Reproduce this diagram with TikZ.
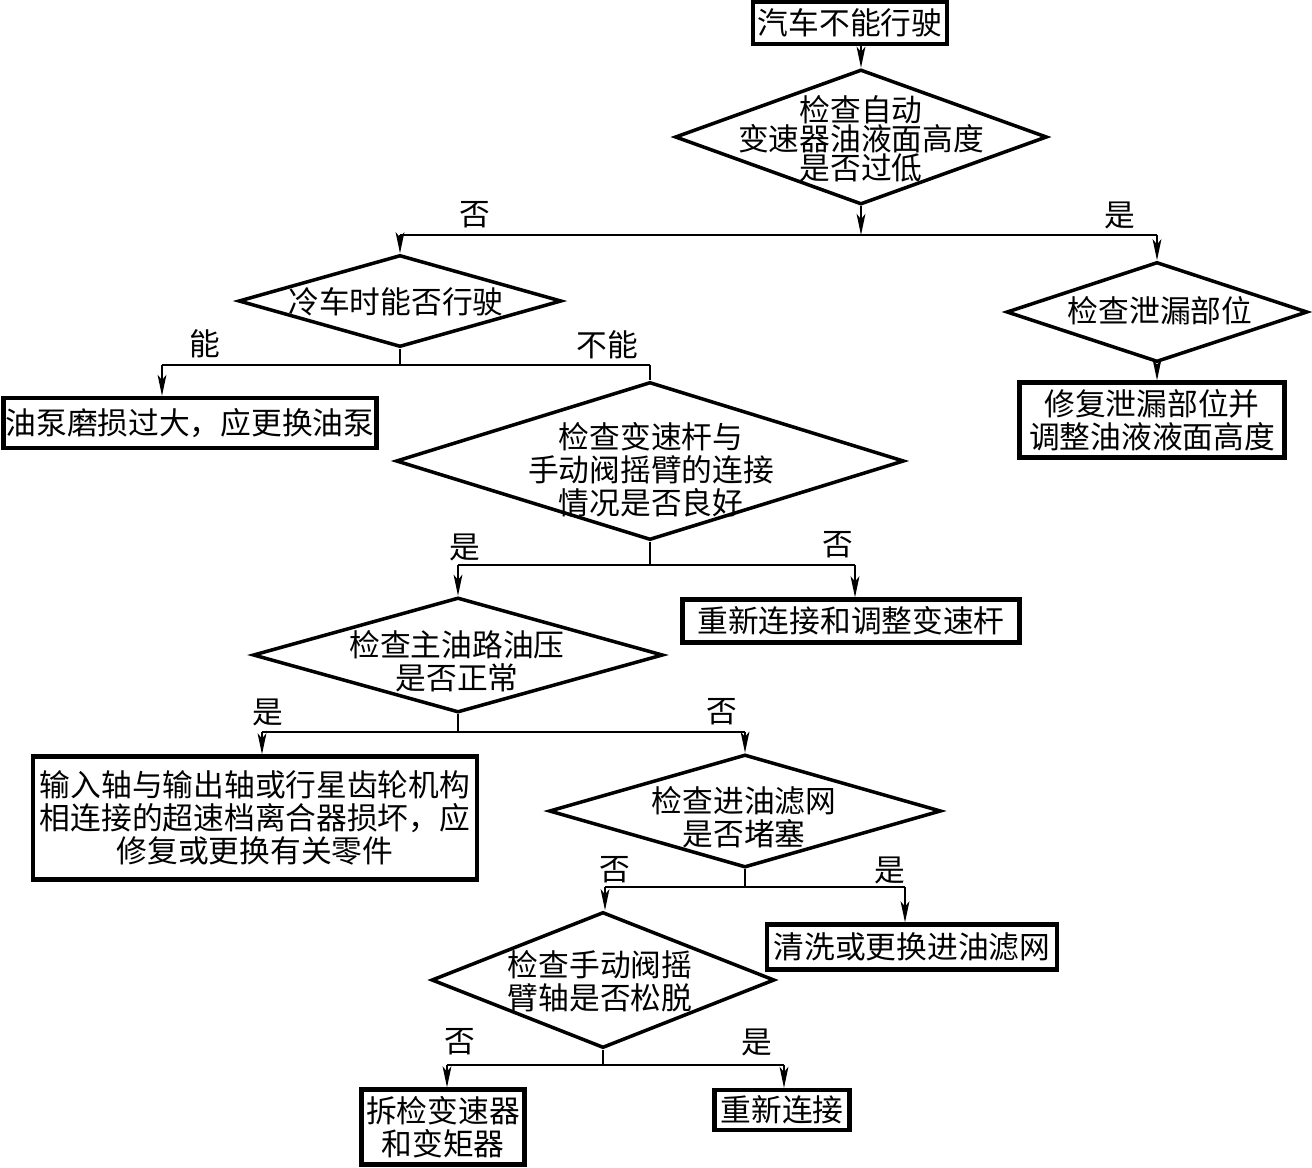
\documentclass[tikz,border=0pt]{standalone}
\usepackage{fontspec}
\setmainfont{Noto Sans CJK SC}
\usetikzlibrary{shapes.geometric,arrows.meta,positioning}
\tikzset{>/.tip={Stealth[length=12pt,width=5pt,inset=3pt]}}
\def\u{0.02cm}
\tikzset{dec/.style={diamond,draw,line width=2pt,inner sep=0pt}}
\tikzset{act/.style={rectangle,draw,line width=2.4pt,align=center,inner xsep=1pt,inner ysep=0pt}}
\tikzset{say/.style={align=center,inner sep=0pt}}
\tikzset{tag/.style={inner sep=0pt}}
\tikzset{wire/.style={line width=1.1pt}}

\begin{document}
\begin{tikzpicture}[x=\u,y=-\u,font=\fontsize{17.5}{18.8}\selectfont]
        \useasboundingbox (0,0) rectangle (1312,1167);
        \node(start)[act,minimum width=194*\u,minimum height=42*\u] at (850,23) {汽车不能行驶};
        \node(lvl)[dec,minimum width=372*\u,minimum height=135*\u] at (861,137) {};
        \node(lvlT)[say,font=\fontsize{17.5}{16.5}\selectfont] at (861,139) {检查自动\\变速器油液面高度\\是否过低};
        \node(cold)[dec,minimum width=323*\u,minimum height=92*\u] at (400,301) {};
        \node(coldT)[say] at (396,302) {冷车时能否行驶};
        \node(leak)[dec,minimum width=301*\u,minimum height=100*\u] at (1157,312) {};
        \node(leakT)[say] at (1160,311) {检查泄漏部位};
        \node(fixleak)[act,minimum width=265*\u,minimum height=75*\u] at (1152,420) {修复泄漏部位并\\调整油液液面高度};
        \node(pump)[act,minimum width=373*\u,minimum height=50*\u] at (190,423) {油泵磨损过大，应更换油泵};
        \node(shift)[dec,minimum width=508*\u,minimum height=158*\u] at (650,461) {};
        \node(shiftT)[say] at (651,470) {检查变速杆与\\手动阀摇臂的连接\\情况是否良好};
        \node(relink)[act,minimum width=337*\u,minimum height=43*\u] at (851,621) {重新连接和调整变速杆};
        \node(press)[dec,minimum width=410*\u,minimum height=115*\u] at (458,655) {};
        \node(pressT)[say] at (457,661) {检查主油路油压\\是否正常};
        \node(clutch)[act,minimum width=444*\u,minimum height=123*\u] at (255,818) {输入轴与输出轴或行星齿轮机构\\相连接的超速档离合器损坏，应\\修复或更换有关零件};
        \node(strainer)[dec,minimum width=392*\u,minimum height=113*\u] at (745,811) {};
        \node(strainerT)[say] at (744,817) {检查进油滤网\\是否堵塞};
        \node(clean)[act,minimum width=290*\u,minimum height=45*\u] at (912,947) {清洗或更换进油滤网};
        \node(arm)[dec,minimum width=343*\u,minimum height=136*\u] at (603,980) {};
        \node(armT)[say] at (600,981) {检查手动阀摇\\臂轴是否松脱};
        \node(overhaul)[act,minimum width=163*\u,minimum height=75*\u] at (443,1127) {拆检变速器\\和变矩器};
        \node(reconn)[act,minimum width=135*\u,minimum height=40*\u] at (782,1110) {重新连接};

        \coordinate(n1l) at (400,235);
        \coordinate(n1r) at (1157,235);
        \coordinate(n2l) at (162,365);
        \coordinate(n2r) at (650,365);
        \coordinate(n4l) at (458,565);
        \coordinate(n4r) at (855,565);
        \coordinate(n5l) at (262,732);
        \coordinate(n5r) at (745,732);
        \coordinate(n6l) at (605,887);
        \coordinate(n6r) at (905,887);
        \coordinate(n7l) at (447,1065);
        \coordinate(n7r) at (784,1065);

        \node(no1)[tag] at (475,215) {否};
        \node(yes1)[tag] at (1120,215) {是};
        \node(can2)[tag] at (205,344) {能};
        \node(cannot2)[tag] at (607,345) {不能};
        \node(yes4)[tag] at (465,547) {是};
        \node(no4)[tag] at (838,545) {否};
        \node(yes5)[tag] at (268,712) {是};
        \node(no5)[tag] at (722,712) {否};
        \node(no6)[tag] at (615,870) {否};
        \node(yes6)[tag] at (890,870) {是};
        \node(no7)[tag] at (460,1042) {否};
        \node(yes7)[tag] at (757,1042) {是};

        \draw[wire,->] (start.south -| lvl.north) -- (lvl.north);
        \draw[wire,->] (lvl.south) -- (lvl.south |- n1l);
        \draw[wire] (n1l) -- (n1r);
        \draw[wire,->] (n1l) -- (cold.north);
        \draw[wire,->] (n1r) -- (leak.north);
        \draw[wire,->] (leak.south) -- (leak.south |- fixleak.north);

        \draw[wire] (cold.south) -- (cold.south |- n2l);
        \draw[wire] (n2l) -- (n2r);
        \draw[wire,->] (n2l) -- (n2l |- pump.north);
        \draw[wire] (n2r) -- (shift.north);

        \draw[wire] (shift.south) -- (shift.south |- n4l);
        \draw[wire] (n4l) -- (n4r);
        \draw[wire,->] (n4l) -- (press.north);
        \draw[wire,->] (n4r) -- (n4r |- relink.north);

        \draw[wire] (press.south) -- (press.south |- n5l);
        \draw[wire] (n5l) -- (n5r);
        \draw[wire,->] (n5l) -- (n5l |- clutch.north);
        \draw[wire,->] (n5r) -- (strainer.north);

        \draw[wire] (strainer.south) -- (strainer.south |- n6l);
        \draw[wire] (n6l) -- (n6r);
        \draw[wire,->] (n6l) -- (n6l |- arm.north);
        \draw[wire,->] (n6r) -- (n6r |- clean.north);

        \draw[wire] (arm.south) -- (arm.south |- n7l);
        \draw[wire] (n7l) -- (n7r);
        \draw[wire,->] (n7l) -- (n7l |- overhaul.north);
        \draw[wire,->] (n7r) -- (n7r |- reconn.north);
      \end{tikzpicture}
\end{document}
